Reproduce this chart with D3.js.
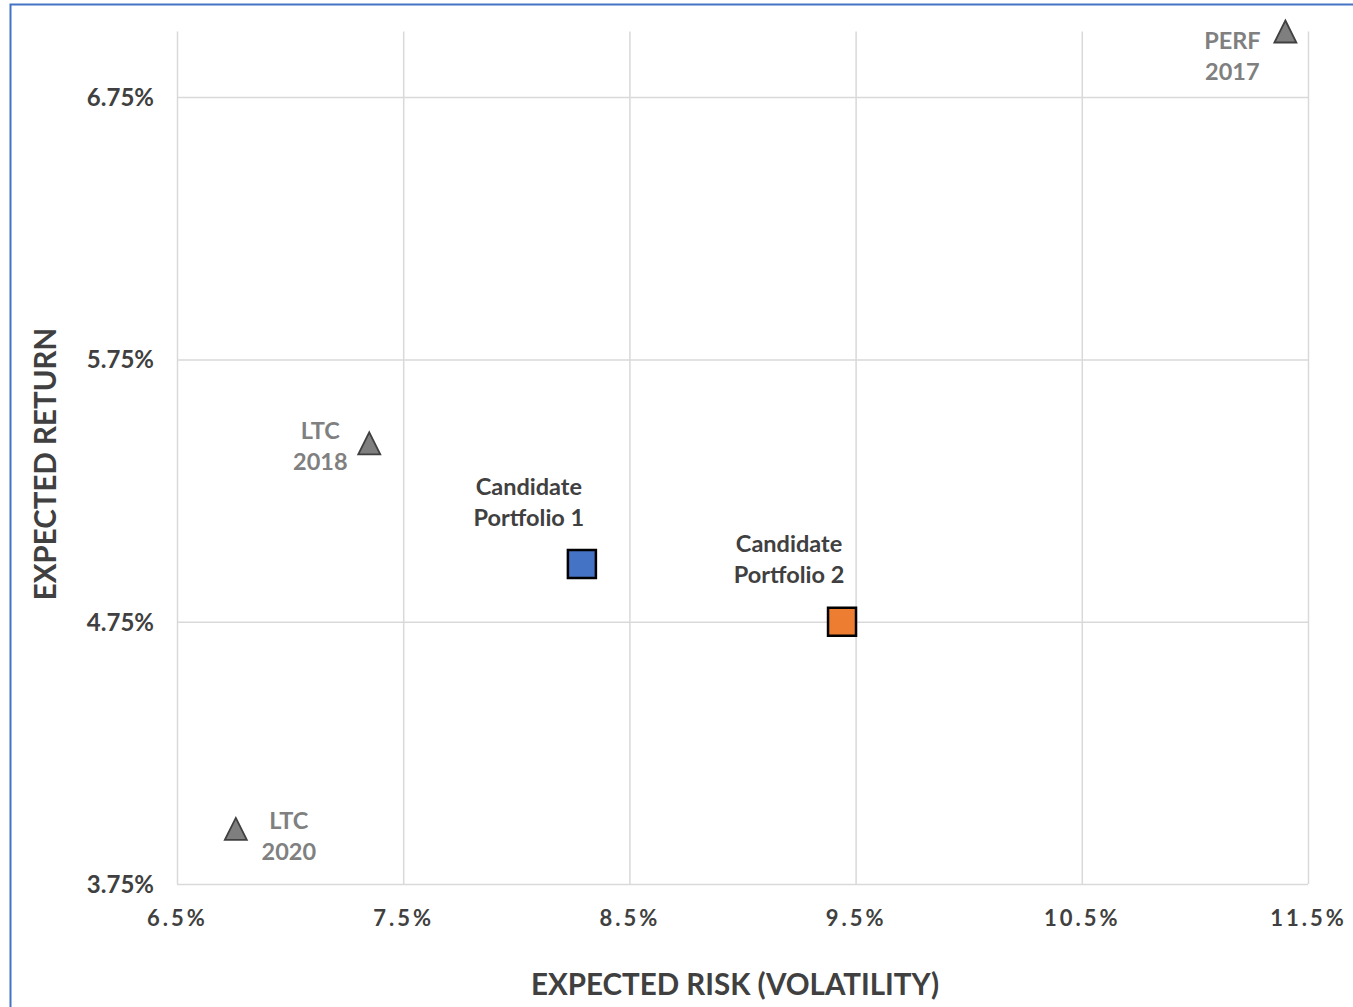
<!DOCTYPE html>
<html>
<head>
<meta charset="utf-8">
<script src="https://cdn.jsdelivr.net/npm/d3@7"></script>
<style>
    body { margin: 0; background: #fff; }
    text { font-family: Lato, "Open Sans", sans-serif; font-weight: 700; }
</style>
</head>
<body>
<svg class="canvas" width="1353" height="1007"></svg>
<script>
// data
const names = ['PERF 2017', 'LTC 2018', 'LTC 2020', 'Candidate Portfolio 1', 'Candidate Portfolio 2'];
const risk = [11.4, 7.35, 6.76, 8.29, 9.44];
const ret = [7.0, 5.43, 3.96, 4.97, 4.75];
const kind = ['benchmark', 'benchmark', 'benchmark', 'candidate1', 'candidate2'];
const xTicks = [6.5, 7.5, 8.5, 9.5, 10.5, 11.5];
const yTicks = [3.75, 4.75, 5.75, 6.75];

// label placement (dx, dy of first line centre, from the marker)
const labelPlace = {
    'PERF 2017': [-53, 9],
    'LTC 2018': [-49, -13],
    'LTC 2020': [53, -8],
    'Candidate Portfolio 1': [-53, -77],
    'Candidate Portfolio 2': [-53, -78]
};
const styles = {
    benchmark: { fill: '#7f7f7f', stroke: '#404040', label: '#808080' },
    candidate1: { fill: '#4472c4', stroke: '#000', label: '#404040' },
    candidate2: { fill: '#ed7d31', stroke: '#000', label: '#404040' }
};

const points = names.map((n, i) => ({ name: n, x: risk[i], y: ret[i], kind: kind[i] }));

const x = d3.scaleLinear().domain([6.5, 11.5]).range([177, 1308]);
const y = d3.scaleLinear().domain([3.75, 7.0]).range([884, 31.5]);

const canvas = d3.select('.canvas');

// outer frame (blue)
canvas.append('path')
    .attr('d', 'M10.5,1353 V4.5 H1353')
    .attr('fill', 'none')
    .attr('stroke', '#4472c4')
    .attr('stroke-width', 2);

// gridlines
canvas.append('g')
    .attr('transform', `translate(0, ${y.range()[0]})`)
    .call(d3.axisBottom(x).tickValues(xTicks).tickSize(-(y.range()[0] - y.range()[1])).tickFormat(''))
    .call(g => g.select('.domain').remove())
    .call(g => g.selectAll('line').attr('stroke', '#d9d9d9').attr('stroke-width', 1.5));

canvas.append('g')
    .attr('transform', `translate(${x.range()[0]}, 0)`)
    .call(d3.axisLeft(y).tickValues(yTicks).tickSize(-(x.range()[1] - x.range()[0])).tickFormat(''))
    .call(g => g.select('.domain').remove())
    .call(g => g.selectAll('line').attr('stroke', '#d9d9d9').attr('stroke-width', 1.5));

// tick labels
canvas.append('g')
    .attr('transform', `translate(0, ${y.range()[0] + 34})`)
    .call(d3.axisBottom(x).tickValues(xTicks).tickSize(0).tickFormat(d => d.toFixed(1) + '%'))
    .call(g => g.select('.domain').remove())
    .call(g => g.selectAll('text')
        .attr('y', 0)
        .attr('dy', '0.35em')
        .attr('fill', '#404040')
        .style('font-size', '22px')
        .style('letter-spacing', '3px')
        .style('font-family', 'Lato, sans-serif'));

canvas.append('g')
    .attr('transform', `translate(154, 0)`)
    .call(d3.axisLeft(y).tickValues(yTicks).tickSize(0).tickFormat(d => d.toFixed(2) + '%'))
    .call(g => g.select('.domain').remove())
    .call(g => g.selectAll('text')
        .attr('x', 0)
        .attr('dy', '0.35em')
        .attr('fill', '#404040')
        .style('font-size', '24px')
        .style('font-family', 'Lato, sans-serif'));

// axis titles
canvas.append('text')
    .attr('x', 735)
    .attr('y', 995)
    .attr('text-anchor', 'middle')
    .attr('fill', '#404040')
    .style('font-size', '29.5px')
    .text('EXPECTED RISK (VOLATILITY)');

canvas.append('text')
    .attr('transform', 'translate(56, 464) rotate(-90)')
    .attr('text-anchor', 'middle')
    .attr('fill', '#404040')
    .style('font-size', '29.5px')
    .text('EXPECTED RETURN');

// markers
const tri = 11, sq = 14;
canvas.selectAll('.marker')
    .data(points)
    .enter()
    .append('path')
    .attr('class', 'marker')
    .attr('d', d => {
        const cx = x(d.x), cy = y(d.y);
        if (d.kind === 'benchmark')
            return `M${cx},${cy - tri} L${cx + tri},${cy + tri} L${cx - tri},${cy + tri} Z`;
        return `M${cx - sq},${cy - sq} H${cx + sq} V${cy + sq} H${cx - sq} Z`;
    })
    .attr('fill', d => styles[d.kind].fill)
    .attr('stroke', d => styles[d.kind].stroke)
    .attr('stroke-width', d => d.kind === 'benchmark' ? 1.8 : 2.5)
    .attr('stroke-linejoin', 'miter');

// data labels
const labels = canvas.selectAll('.label')
    .data(points)
    .enter()
    .append('text')
    .attr('class', 'label')
    .attr('text-anchor', 'middle')
    .attr('fill', d => styles[d.kind].label)
    .style('font-size', '23.5px');

labels.each(function (d) {
    const [dx, dy] = labelPlace[d.name];
    const words = d.name.split(' ');
    const lines = words.length > 2 ? [words[0], words.slice(1).join(' ')] : words;
    d3.select(this).selectAll('tspan')
        .data(lines)
        .enter()
        .append('tspan')
        .attr('x', x(d.x) + dx)
        .attr('y', (l, i) => y(d.y) + dy + i * 31)
        .attr('dy', '0.35em')
        .text(l => l);
});
</script>
</body>
</html>
